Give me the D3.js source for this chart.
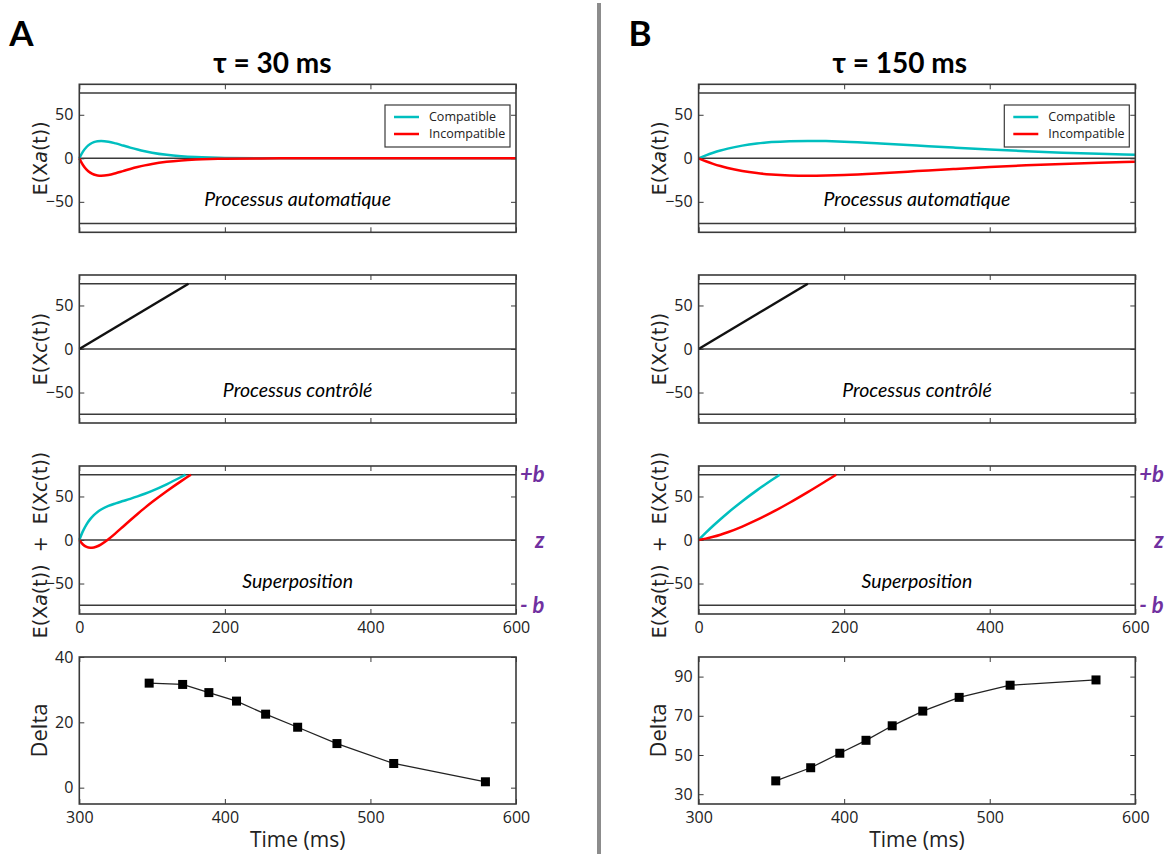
<!DOCTYPE html>
<html>
<head>
<meta charset="utf-8">
<script src="https://d3js.org/d3.v7.min.js"></script>
<style>
  html, body { margin: 0; padding: 0; background: #fff; }
  svg { display: block; }
</style>
</head>
<body>
<svg id="chart" width="1170" height="854"></svg>
<script>
// ---------------- DATA ----------------
const boundB = 75;            // +b / -b
const startZ = 0;             // z
const timeTicks = [0, 200, 400, 600];
const eTicks = [-50, 0, 50];
const deltaTimeTicks = [300, 400, 500, 600];
const deltaTicksA = [0, 20, 40];
const deltaTicksB = [30, 50, 70, 90];
const legendLabels = ["Compatible", "Incompatible"];
const panelTitles = ["τ = 30 ms", "τ = 150 ms"];
const panelLetters = ["A", "B"];
const rowLabels = ["Processus automatique", "Processus contrôlé", "Superposition"];

// Automatic process, tau = 30 ms
const autoT_A = [0,5,10,15,20,25,30,40,50,60,70,80,90,100,120,140,160,180,200,250,300,400,500,600];
const autoComp_A = [0,7.67,12.99,16.49,18.61,19.69,20,19.11,17.11,14.72,12.30,10.07,8.12,6.46,3.98,2.39,1.40,0.81,0.46,0.11,0.02,0,0,0];
const autoIncomp_A = [0,-7.67,-12.99,-16.49,-18.61,-19.69,-20,-19.11,-17.11,-14.72,-12.30,-10.07,-8.12,-6.46,-3.98,-2.39,-1.40,-0.81,-0.46,-0.11,-0.02,0,0,0];

// Automatic process, tau = 150 ms
const autoT_B = [0,10,20,30,40,60,80,100,125,150,175,200,250,300,350,400,450,500,550,600];
const autoComp_B = [0,3.39,6.34,8.90,11.10,14.58,17.01,18.61,19.69,20,19.75,19.11,17.11,14.72,12.30,10.07,8.12,6.46,5.10,3.98];
const autoIncomp_B = [0,-3.39,-6.34,-8.90,-11.10,-14.58,-17.01,-18.61,-19.69,-20,-19.75,-19.11,-17.11,-14.72,-12.30,-10.07,-8.12,-6.46,-5.10,-3.98];

// Controlled process (same in both panels)
const ctrlT = [0, 150];
const ctrlV = [0, 75];

// Superposition, tau = 30 ms
const supT_A_comp = [0,5,10,15,20,25,30,40,50,60,70,80,90,100,120,140,146];
const supComp_A = [0,10.17,17.99,23.99,28.61,32.19,35,39.11,42.11,44.72,47.30,50.07,53.12,56.46,63.98,72.39,75];
const supT_A_inc = [0,5,10,15,20,25,30,40,50,60,70,80,90,100,120,140,150,153.4];
const supInc_A = [0,-5.17,-7.99,-8.99,-8.61,-7.19,-5,0.89,7.89,15.28,22.70,29.93,36.88,43.54,56.02,67.61,73.17,75];

// Superposition, tau = 150 ms
const supT_B_comp = [0,10,20,30,40,60,80,100,111.5];
const supComp_B = [0,8.39,16.34,23.9,31.1,44.58,57.01,68.61,75];
const supT_B_inc = [0,10,20,30,40,60,80,100,125,150,175,189];
const supInc_B = [0,1.61,3.66,6.1,8.9,15.42,22.99,31.39,42.81,55,67.75,75];

// Delta plots
const deltaTime_A = [348,371,389,408,428,450,477,516,579];
const delta_A = [32,31.6,29.1,26.5,22.5,18.5,13.5,7.4,1.8];
const deltaTime_B = [353,377,397,415,433,454,479,514,573];
const delta_B = [36.8,43.5,50.9,57.5,64.9,72.4,79.4,85.6,88.3];

// ---------------- DRAWING ----------------
const svg = d3.select("#chart");
const COMP = "#00BFBF", INC = "#FF0000", PURPLE = "#7030A0", FRAME = "#3a3a3a";
const calibri = "Lato, 'Open Sans', sans-serif";
const mplFont = "'Open Sans', 'DejaVu Sans', sans-serif";

const plotW = 436.7;
const rowTop = [84.3, 275, 466, 657];
const rowH = [148, 148, 148, 147];
const panelX = [79.3, 698.6];

// separator
svg.append("rect").attr("x", 597).attr("y", 3).attr("width", 4).attr("height", 851).attr("fill", "#8c8c8c");

const zip = (xs, ys) => xs.map((x, i) => [x, ys[i]]);

function frame(g, x, y, xTicksArr, yTicksArr, showX, w, h) {
  const ax = (sel) => sel.call(s => s.select(".domain").remove())
                         .call(s => s.selectAll(".tick line").attr("stroke", FRAME).attr("stroke-width", 1));
  g.append("g").attr("transform", `translate(0,${h})`)
    .call(d3.axisBottom(x).tickValues(xTicksArr).tickSizeInner(-5).tickSizeOuter(0).tickPadding(8)
      .tickFormat(showX ? d3.format("d") : ""))
    .call(ax);
  g.append("g")
    .call(d3.axisTop(x).tickValues(xTicksArr).tickSizeInner(-5).tickSizeOuter(0).tickFormat(""))
    .call(ax);
  g.append("g")
    .call(d3.axisLeft(y).tickValues(yTicksArr).tickSizeInner(-5).tickSizeOuter(0).tickPadding(6))
    .call(ax);
  g.append("g").attr("transform", `translate(${w},0)`)
    .call(d3.axisRight(y).tickValues(yTicksArr).tickSizeInner(-5).tickSizeOuter(0).tickFormat(""))
    .call(ax);
  g.selectAll(".tick text").attr("font-family", mplFont).attr("font-size", 16).attr("fill", "#222");
}

function border(g, w, h) {
  g.append("rect").attr("x", 0).attr("y", 0).attr("width", w).attr("height", h)
    .attr("fill", "none").attr("stroke", FRAME).attr("stroke-width", 1.6);
}

function hlines(g, x, y, vals) {
  vals.forEach(v => {
    g.append("line").attr("x1", x.range()[0]).attr("x2", x.range()[1])
      .attr("y1", y(v)).attr("y2", y(v)).attr("stroke", FRAME).attr("stroke-width", 1.5);
  });
}

function curve(g, x, y, pts, color, width) {
  const line = d3.line().x(d => x(d[0])).y(d => y(d[1])).curve(d3.curveMonotoneX);
  g.append("path").datum(pts).attr("d", line).attr("fill", "none")
    .attr("stroke", color).attr("stroke-width", width).attr("stroke-linejoin", "round");
}

function yLabel(g, cy, parts) {
  const t = g.append("text").attr("transform", `translate(-39,${cy}) rotate(-90)`)
    .attr("text-anchor", "middle").attr("dy", "0.35em")
    .attr("font-family", "'DejaVu Sans', sans-serif").attr("font-size", 19).attr("fill", "#222")
    .attr("xml:space", "preserve").style("white-space", "pre");
  parts.forEach(p => {
    t.append("tspan").text(p[0]).attr("font-style", p[1] ? "italic" : "normal");
  });
}

function innerLabel(g, w, y, text) {
  g.append("text").attr("x", w / 2).attr("y", y).attr("text-anchor", "middle")
    .attr("font-family", calibri).attr("font-style", "italic").attr("font-size", 19.5).attr("fill", "#000")
    .text(text);
}

const panels = [
  { autoT: autoT_A, autoC: autoComp_A, autoI: autoIncomp_A,
    supTC: supT_A_comp, supC: supComp_A, supTI: supT_A_inc, supI: supInc_A,
    dT: deltaTime_A, d: delta_A, dDom: [-5, 40], dTicks: deltaTicksA },
  { autoT: autoT_B, autoC: autoComp_B, autoI: autoIncomp_B,
    supTC: supT_B_comp, supC: supComp_B, supTI: supT_B_inc, supI: supInc_B,
    dT: deltaTime_B, d: delta_B, dDom: [25, 100], dTicks: deltaTicksB }
];

panels.forEach((P, pi) => {
  const px = panelX[pi];
  // letter & title
  svg.append("text").attr("x", px - 70).attr("y", 46).attr("font-family", calibri)
    .attr("font-weight", 700).attr("font-size", 35).attr("fill", "#000").text(panelLetters[pi]);
  svg.append("text").attr("x", px + 134).attr("y", 73).attr("font-family", calibri)
    .attr("font-weight", 700).attr("font-size", 28).attr("fill", "#000").text(panelTitles[pi]);

  const x = d3.scaleLinear().domain([0, 600]).range([0, plotW]);

  for (let r = 0; r < 3; r++) {
    const h = rowH[r];
    const g = svg.append("g").attr("transform", `translate(${px},${rowTop[r]})`);
    const y = d3.scaleLinear().domain([-85, 85]).range([h, 0]);
    frame(g, x, y, timeTicks, eTicks, r === 2, plotW, h);
    hlines(g, x, y, [boundB, startZ, -boundB]);
    if (r === 0) {
      curve(g, x, y, zip(P.autoT, P.autoC), COMP, 2.5);
      curve(g, x, y, zip(P.autoT, P.autoI), INC, 2.5);
      yLabel(g, h / 2, [["E(X", false], ["a", true], ["(t))", false]]);
      const lg = g.append("g").attr("transform", `translate(${plotW - 131},${20.7})`);
      lg.append("rect").attr("width", 125).attr("height", 42).attr("fill", "#fff")
        .attr("stroke", FRAME).attr("stroke-width", 1.2);
      [COMP, INC].forEach((c, i) => {
        lg.append("line").attr("x1", 9).attr("x2", 34).attr("y1", 12 + i * 17).attr("y2", 12 + i * 17)
          .attr("stroke", c).attr("stroke-width", 2.5);
        lg.append("text").attr("x", 44).attr("y", 12 + i * 17).attr("dy", "0.35em")
          .attr("font-family", mplFont).attr("font-size", 12.5).attr("fill", "#222").text(legendLabels[i]);
      });
    } else if (r === 1) {
      curve(g, x, y, zip(ctrlT, ctrlV), "#111", 2.5);
      yLabel(g, h / 2, [["E(X", false], ["c", true], ["(t))", false]]);
    } else {
      curve(g, x, y, zip(P.supTC, P.supC), COMP, 2.5);
      curve(g, x, y, zip(P.supTI, P.supI), INC, 2.5);
      yLabel(g, h / 2 + 5, [["E(X", false], ["a", true], ["(t))  +  E(X", false], ["c", true], ["(t))", false]]);
      const lab = (txt, v, dx) => g.append("text").attr("x", plotW + dx).attr("y", y(v)).attr("dy", "0.35em")
        .attr("font-family", calibri).attr("font-weight", 700).attr("font-style", "italic")
        .attr("font-size", 22).attr("fill", PURPLE).text(txt);
      lab("+b", boundB, 4);
      lab("z", startZ, 19);
      lab("- b", -boundB, 4);
    }
    innerLabel(g, plotW, y(-50) + 4, rowLabels[r]);
  }

  // delta row
  const h = rowH[3];
  const g = svg.append("g").attr("transform", `translate(${px},${rowTop[3]})`);
  const xd = d3.scaleLinear().domain([300, 600]).range([0, plotW]);
  const yd = d3.scaleLinear().domain(P.dDom).range([h, 0]);
  frame(g, xd, yd, deltaTimeTicks, P.dTicks, true, plotW, h);
  const pts = zip(P.dT, P.d);
  g.append("path").datum(pts).attr("d", d3.line().x(d => xd(d[0])).y(d => yd(d[1])))
    .attr("fill", "none").attr("stroke", "#222").attr("stroke-width", 1.3);
  g.selectAll("rect.mk").data(pts).enter().append("rect").attr("class", "mk")
    .attr("x", d => xd(d[0]) - 4.5).attr("y", d => yd(d[1]) - 4.5)
    .attr("width", 9).attr("height", 9).attr("fill", "#000");
  g.append("text").attr("x", plotW / 2).attr("y", h + 43).attr("text-anchor", "middle")
    .attr("font-family", mplFont).attr("font-size", 21).attr("fill", "#222").text("Time (ms)");
  g.append("text").attr("transform", `translate(-40,${h / 2}) rotate(-90)`).attr("text-anchor", "middle")
    .attr("dy", "0.35em").attr("font-family", mplFont).attr("font-size", 22).attr("fill", "#222").text("Delta");
});

// frames drawn last so they sit above curves
panels.forEach((P, pi) => {
  for (let r = 0; r < 4; r++) {
    const g = svg.append("g").attr("transform", `translate(${panelX[pi]},${rowTop[r]})`);
    border(g, plotW, rowH[r]);
  }
});
</script>
</body>
</html>
